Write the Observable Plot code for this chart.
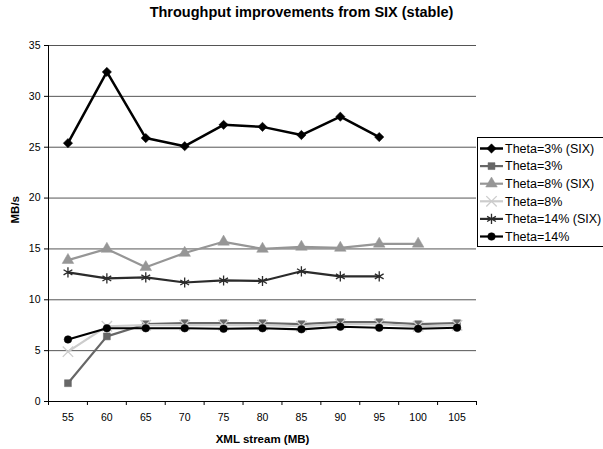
<!DOCTYPE html>
<html><head><meta charset="utf-8">
<script src="https://cdn.jsdelivr.net/npm/d3@7"></script>
<script src="https://cdn.jsdelivr.net/npm/@observablehq/plot@0.6"></script>
<style>
html,body{margin:0;padding:0;background:#fff;overflow:hidden;}
#wrap{position:relative;width:603px;height:449px;overflow:hidden;font-family:"Liberation Sans",Arial,sans-serif;}
#title{height:25px;line-height:24px;text-align:center;font-weight:bold;font-size:14.5px;color:#000;}
#legend{position:absolute;left:477px;top:137px;}
</style></head>
<body><div id="wrap"><div id="title">Throughput improvements from SIX (stable)</div><div id="chart"></div><div id="legend"></div></div>
<script>
const xml = [55, 60, 65, 70, 75, 80, 85, 90, 95, 100, 105];
const yTicks = [0, 5, 10, 15, 20, 25, 30, 35];
const seriesNames = ["Theta=3% (SIX)", "Theta=3%", "Theta=8% (SIX)", "Theta=8%", "Theta=14% (SIX)", "Theta=14%"];
const theta3SIX  = [25.4, 32.4, 25.9, 25.1, 27.2, 27.0, 26.2, 28.0, 26.0, null, null];
const theta3     = [1.8, 6.4, 7.6, 7.7, 7.7, 7.7, 7.6, 7.8, 7.8, 7.6, 7.7];
const theta8SIX  = [13.9, 15.0, 13.2, 14.6, 15.7, 15.0, 15.2, 15.1, 15.5, 15.5, null];
const theta8     = [4.9, 7.4, 7.5, 7.5, 7.5, 7.5, 7.4, 7.6, 7.6, 7.4, 7.5];
const theta14SIX = [12.7, 12.1, 12.2, 11.7, 11.9, 11.85, 12.8, 12.3, 12.3, null, null];
const theta14    = [6.1, 7.2, 7.2, 7.2, 7.15, 7.2, 7.1, 7.35, 7.25, 7.15, 7.25];

const seriesValues = [theta3SIX, theta3, theta8SIX, theta8, theta14SIX, theta14];
const styles = [
  {color: "#000000", symbol: "diamond2", r: 4.2, width: 2.5, fill: true},
  {color: "#676767", symbol: "square", r: 3.9, width: 2.2, fill: true},
  {color: "#969696", symbol: "triangle", r: 4.3, width: 2.2, fill: true},
  {color: "#cccccc", symbol: "times", r: 4.8, width: 2.2, fill: false},
  {color: "#2b2b2b", symbol: "asterisk", r: 4.8, width: 2.2, fill: false},
  {color: "#000000", symbol: "circle", r: 3.8, width: 2.2, fill: true}
];

const step = xml[1] - xml[0];
const boundaries = xml.map(v => v - step / 2).concat([xml[xml.length - 1] + step / 2]);

const marks = [
  Plot.gridY(yTicks, {stroke: "#555", strokeOpacity: 1, strokeWidth: 1}),
  Plot.axisY(yTicks, {tickSize: 4, tickPadding: 4, label: null, fontSize: 10.5}),
  Plot.axisX(xml, {tickSize: 0, tickPadding: 12, label: null, fontSize: 10.5, tickFormat: d => String(d)}),
  Plot.axisX(boundaries, {tickSize: 4, tickFormat: () => "", label: null}),
  Plot.ruleX([boundaries[0]], {stroke: "#000"}),
  Plot.ruleY([0], {stroke: "#000"}),
  Plot.text(["MB/s"], {frameAnchor: "left", dx: -33, rotate: -90, fontWeight: "bold", fontSize: 11.5, lineAnchor: "middle"}),
  Plot.text(["XML stream (MB)"], {frameAnchor: "bottom", dy: 38, fontWeight: "bold", fontSize: 11.5, lineAnchor: "middle"})
];

seriesNames.forEach((name, i) => {
  const rows = xml.map((x, j) => ({x, y: seriesValues[i][j]})).filter(d => d.y != null);
  const s = styles[i];
  marks.push(Plot.line(rows, {x: "x", y: "y", stroke: s.color, strokeWidth: s.width}));
  marks.push(Plot.dot(rows, {x: "x", y: "y", symbol: () => s.symbol, r: s.r,
    fill: s.fill ? s.color : "none", stroke: s.color, strokeWidth: s.fill ? 0.5 : 1.3}));
});

const chart = Plot.plot({
  width: 603, height: 424,
  marginLeft: 48, marginRight: 127, marginTop: 20, marginBottom: 48,
  style: {fontFamily: "Liberation Sans, Arial, sans-serif", fontSize: "10.5px", color: "#000", background: "#fff"},
  x: {type: "linear", domain: [boundaries[0], boundaries[boundaries.length - 1]]},
  y: {domain: [yTicks[0], yTicks[yTicks.length - 1]]},
  symbol: {type: "identity"},
  marks
});
document.getElementById("chart").appendChild(chart);

// legend
const lw = 140, lh = 110;
const lg = d3.select("#legend").append("svg").attr("width", lw).attr("height", lh)
  .style("font-family", "Liberation Sans, Arial, sans-serif");
lg.append("rect").attr("x", 0.5).attr("y", 0.5).attr("width", lw).attr("height", lh - 1)
  .attr("fill", "#fff").attr("stroke", "#000");
const symMap = {diamond2: d3.symbolDiamond2, square: d3.symbolSquare, triangle: d3.symbolTriangle,
  times: d3.symbolTimes, asterisk: d3.symbolAsterisk, circle: d3.symbolCircle};
seriesNames.forEach((name, i) => {
  const s = styles[i];
  const cy = 11.5 + 17.6 * i;
  const g = lg.append("g");
  g.append("line").attr("x1", 3).attr("x2", 26).attr("y1", cy).attr("y2", cy)
    .attr("stroke", s.color).attr("stroke-width", s.width);
  g.append("path").attr("transform", `translate(14.5,${cy})`)
    .attr("d", d3.symbol(symMap[s.symbol], Math.PI * s.r * s.r)())
    .attr("fill", s.fill ? s.color : "none").attr("stroke", s.color).attr("stroke-width", s.fill ? 0.5 : 1.3);
  g.append("text").attr("x", 28).attr("y", cy).attr("dy", "0.35em").attr("font-size", "12.5px")
    .attr("fill", "#000").text(name);
});
</script>
</body></html>
